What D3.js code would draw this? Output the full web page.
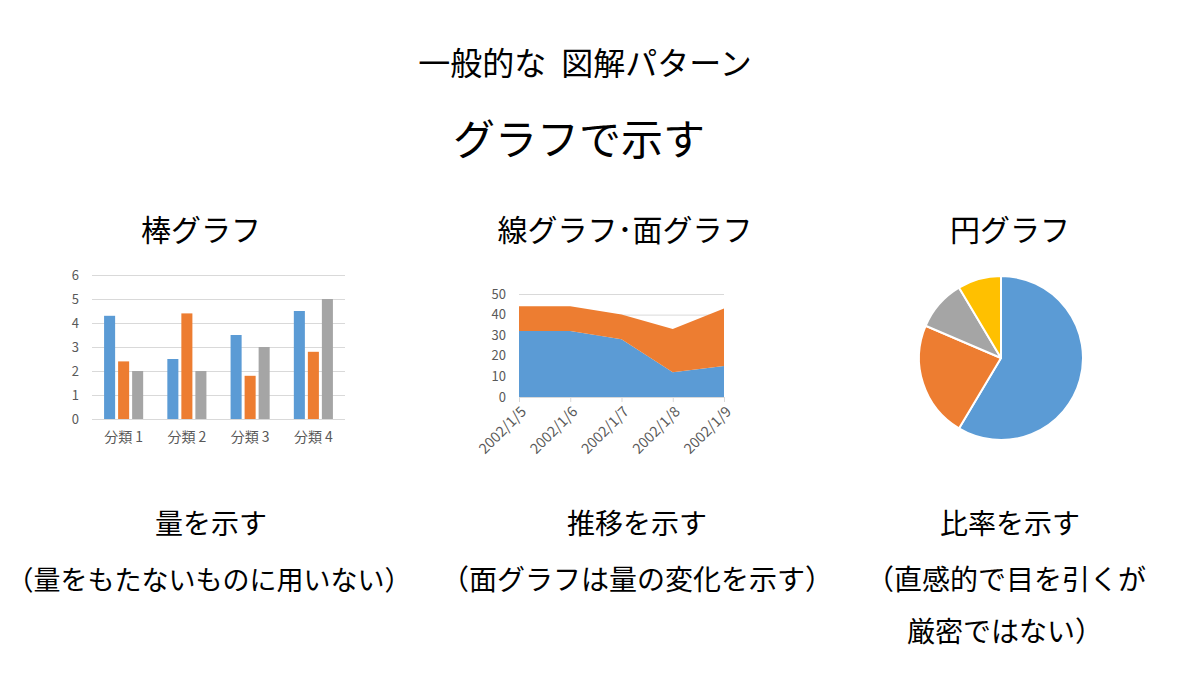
<!DOCTYPE html>
<html>
<head>
<meta charset="utf-8">
<script src="https://cdn.jsdelivr.net/npm/d3@7"></script>
<style>
  body { margin: 0; background: #fff; }
  svg text { font-family: "Noto Sans CJK JP", "Noto Sans", sans-serif; }
</style>
</head>
<body>
<svg id="chart"></svg>
<script>
// bar chart data
const barCategories = ["分類 1", "分類 2", "分類 3", "分類 4"];
const barSeries1 = [4.3, 2.5, 3.5, 4.5];
const barSeries2 = [2.4, 4.4, 1.8, 2.8];
const barSeries3 = [2, 2, 3, 5];
const barTicks = [0, 1, 2, 3, 4, 5, 6];

// area chart data
const areaDates = ["2002/1/5", "2002/1/6", "2002/1/7", "2002/1/8", "2002/1/9"];
const areaSeries1 = [32, 32, 28, 12, 15];
const areaSeries2 = [12, 12, 12, 21, 28];
const areaTicks = [0, 10, 20, 30, 40, 50];

// pie chart data
const pieValues = [8.2, 3.2, 1.4, 1.2];

const colors = ["#5B9BD5", "#ED7D31", "#A5A5A5", "#FFC000"];
const tickColor = "#595959";
const gridColor = "#d9d9d9";

const svg = d3.select("#chart")
    .attr("width", 1200)
    .attr("height", 675);

// headings and captions
function label(x, y, str, size) {
    return svg.append("text")
        .attr("x", x)
        .attr("y", y)
        .attr("text-anchor", "middle")
        .attr("dominant-baseline", "central")
        .attr("font-size", size)
        .attr("fill", "#000")
        .text(str);
}

label(585, 61, "一般的な 図解パターン", 32).attr("word-spacing", 8);
label(579, 136, "グラフで示す", 42);

label(201, 228, "棒グラフ", 30);
label(625, 228, "線グラフ･面グラフ", 30);
label(1010, 228, "円グラフ", 30);

label(211, 522, "量を示す", 28);
label(637, 522, "推移を示す", 28);
label(1010, 522, "比率を示す", 28);

label(209, 578, "（量をもたないものに用いない）", 27);
label(637, 578, "（面グラフは量の変化を示す）", 28);
label(1006, 578, "（直感的で目を引くが", 28);
label(1005, 630, "厳密ではない）", 28);

// ---- bar chart ----
{
    const left = 92, right = 345, top = 275, bottom = 419;
    const g = svg.append("g");

    const x0 = d3.scaleBand()
        .domain(barCategories)
        .range([left, right])
        .paddingInner(0.382)
        .paddingOuter(0.191);

    const x1 = d3.scaleBand()
        .domain([0, 1, 2])
        .range([0, x0.bandwidth()])
        .paddingInner(0.2126);

    const y = d3.scaleLinear()
        .domain([0, 6])
        .range([bottom, top]);

    // gridlines
    g.append("g")
        .selectAll("line")
        .data(barTicks)
        .enter().append("line")
        .attr("x1", left)
        .attr("x2", right)
        .attr("y1", d => y(d) + 0.5)
        .attr("y2", d => y(d) + 0.5)
        .attr("stroke", gridColor)
        .attr("stroke-width", 1);

    const yAxis = g.append("g")
        .attr("transform", "translate(" + (left - 13) + ",0)")
        .call(d3.axisLeft(y).tickValues(barTicks).tickFormat(d3.format("d")).tickSize(0).tickPadding(0));
    yAxis.select(".domain").remove();
    yAxis.selectAll("text")
        .attr("fill", tickColor)
        .attr("font-size", 13);

    const series = [barSeries1, barSeries2, barSeries3];
    series.forEach((vals, si) => {
        g.append("g")
            .selectAll("rect")
            .data(vals)
            .enter().append("rect")
            .attr("x", (d, i) => x0(barCategories[i]) + x1(si))
            .attr("width", x1.bandwidth())
            .attr("y", d => y(d))
            .attr("height", d => y(0) - y(d))
            .attr("fill", colors[si]);
    });

    const xAxis = g.append("g")
        .attr("transform", "translate(0," + (bottom + 13) + ")")
        .call(d3.axisBottom(x0).tickSize(0).tickPadding(0));
    xAxis.select(".domain").remove();
    xAxis.selectAll("text")
        .attr("fill", tickColor)
        .attr("font-size", 14);
}

// ---- area chart ----
{
    const left = 519, right = 724, top = 294, bottom = 397;
    const g = svg.append("g");

    const x = d3.scalePoint()
        .domain(areaDates)
        .range([left, right]);

    const y = d3.scaleLinear()
        .domain([0, 50])
        .range([bottom, top]);

    g.append("g")
        .selectAll("line")
        .data(areaTicks.slice(1))
        .enter().append("line")
        .attr("x1", left)
        .attr("x2", right)
        .attr("y1", d => y(d) + 0.5)
        .attr("y2", d => y(d) + 0.5)
        .attr("stroke", gridColor);

    const rows = areaDates.map((d, i) => ({ date: d, s1: areaSeries1[i], s2: areaSeries2[i] }));
    const stacked = d3.stack().keys(["s1", "s2"])(rows);

    const area = d3.area()
        .x(d => x(d.data.date))
        .y0(d => y(d[0]))
        .y1(d => y(d[1]));

    g.append("g")
        .selectAll("path")
        .data(stacked)
        .enter().append("path")
        .attr("d", area)
        .attr("fill", (d, i) => colors[i]);

    const yAxis = g.append("g")
        .attr("transform", "translate(" + (left - 13) + ",0)")
        .call(d3.axisLeft(y).tickValues(areaTicks).tickSize(0).tickPadding(0));
    yAxis.select(".domain").remove();
    yAxis.selectAll("text")
        .attr("fill", tickColor)
        .attr("font-size", 13);

    const xAxis = g.append("g")
        .attr("transform", "translate(0," + bottom + ")")
        .call(d3.axisBottom(x).tickSize(5).tickPadding(4));
    xAxis.select(".domain")
        .attr("stroke", gridColor)
        .attr("d", "M" + left + ",0.5H" + right);
    xAxis.selectAll(".tick line")
        .attr("stroke", gridColor);
    xAxis.selectAll("text")
        .attr("fill", tickColor)
        .attr("font-size", 14.5)
        .attr("text-anchor", "end")
        .attr("dy", "0.35em")
        .attr("transform", "translate(4,12) rotate(-45)")
        .attr("y", 0)
        .attr("x", 0);
}

// ---- pie chart ----
{
    const cx = 1001, cy = 358, r = 82;
    const g = svg.append("g")
        .attr("transform", "translate(" + cx + "," + cy + ")");

    const pie = d3.pie().sort(null).value(d => d);
    const arc = d3.arc().innerRadius(0).outerRadius(r);

    g.selectAll("path")
        .data(pie(pieValues))
        .enter().append("path")
        .attr("d", arc)
        .attr("fill", (d, i) => colors[i])
        .attr("stroke", "#fff")
        .attr("stroke-width", 2)
        .attr("stroke-linejoin", "round");
}
</script>
</body>
</html>
